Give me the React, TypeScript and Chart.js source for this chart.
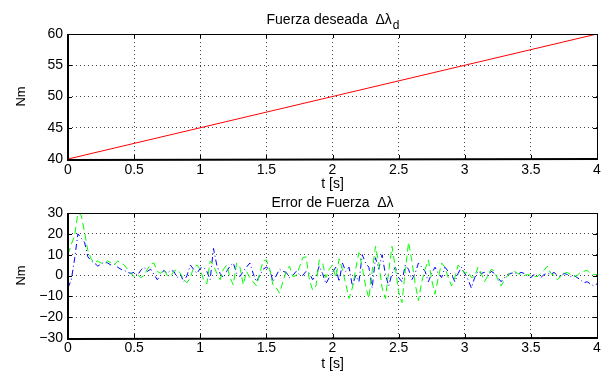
import React, { useEffect, useRef } from "react";
import { Chart, registerables } from "chart.js";

Chart.register(...registerables);

const FONT = '"Liberation Sans", Arial, Helvetica, sans-serif';

// ---- data ----
const forceTime = [0, 4];
const forceDesired = [40, 60];

const SAMPLE_STEP = 0.025; // s
const errorBlue = [
  -6, -2, 8, 20, 18, 16, 9, 7,
  6, 4.5, 5.5, 6.5, 6, 5, 5.5, 4,
  3, 2.5, 1.5, 1, 1.5, 0, 2.5, 4,
  2, 3, 0.5, -2, 0, 2.5, 1, 2.5,
  2, -1, 0.5, -3, 0, 5, 3, 1,
  3.5, 4, 2, -2, 13, 5, 1, -1,
  2, 4.5, 6, 1, -0.5, 2, 4, 6,
  1, -3, 0, 3, 4, 3, -3, 0,
  3, 2, 1.5, -1, 0, 2, 0.5, 0,
  2, 1, -2, 0, 4.5, 1, -4, -1,
  1.5, 4, -3, 6, 2, 4, -5, 0,
  -3, 10, 6, 4, -6, 8.5, 3, 10,
  0.5, -5, 1, 4, -1, -3, 5, 3,
  -2, 1, 6, 4, 2, -3, 1, 4,
  1, -1, 4, 2, 0.5, -3, 1, 4,
  1, -2, -6, -1, 2, 1, 1.5, 0,
  2, 1, -1, -3, -1, 0.5, 1, 1.5,
  0.5, 1.5, 1, -0.5, -1, 0.5, -0.5, -1,
  0.5, 1, 0.5, 1.5, 0, -0.5, 1, 0.5,
  -0.5, 0, -1, -2, -3.5, -3, -4, -5,
  -4,
];
const errorGreen = [
  10, 15, 19, 30, 29, 21, 12, 8,
  6, 7, 6, 5.5, 7, 6, 5, 7,
  6, 5, 3, 1, -0.5, 0.5, -1, 0,
  3, 5.5, 6, 2, 1, 3, 0, -0.5,
  2, 3, 1, -2, -3.5, -1, 4, 5,
  3, -2, -4, 7, 5, 1, -2, 3,
  5, -1, -4.5, 6, 4, -4.5, 2, -1,
  -3, -5, 1, 7, 7.5, 3, -4.5, -6,
  -8.5, -3, 2, 4.5, -0.5, 0, 4, 8.5,
  9, -2, -7, -5, 7.5, 6, -1, 3,
  5, -1, 8, 3, -4, -11, -6, 3,
  11, 4, -5, -11, 2, 14, 6, -6,
  -11, 2, 14, 4, -8, -13, 2, 16,
  7, -4, -12, -3, 3, 7.5, -2, -9,
  -1, 6, 4, -1, -5, -1, 5, 3,
  1, 2, -1, -0.5, 4, 1, -3, 0,
  3, 2, -2, -5, -2, 0, 1.5, 2,
  1, 0.5, 0, 0.5, 0, -0.5, -0.5, 1,
  2.5, 4.5, 1, 0, -2, -0.5, 1, 1.5,
  0.5, -0.5, 0, 1.5, 2, 2.5, 1, 0.5,
  0.5,
];

const xTickValues = [0, 0.5, 1, 1.5, 2, 2.5, 3, 3.5, 4];
const topYTickValues = [40, 45, 50, 55, 60];
const bottomYTickValues = [-30, -20, -10, 0, 10, 20, 30];

const topTitle = "Fuerza deseada  \u0394\u03bb";
const topTitleSub = "d";
const bottomTitle = "Error de Fuerza  \u0394\u03bb";
const xAxisTitle = "t [s]";
const yAxisTitle = "Nm";

const W = 610;
const H = 372;

type PanelSpec = {
  top: number;
  bottom: number;
  titleBaseline: number;
  xTitleBaseline: number;
  tickPad: number;
};

const fmt = (v: number) => String(v).replace("-", "\u2212");

function makePlugin(title: string, sub: string, spec: PanelSpec) {
  return {
    id: "matlabFrame",
    afterDraw(chart: any) {
      const ctx: CanvasRenderingContext2D = chart.ctx;
      const { left, right, top, bottom } = chart.chartArea;
      const xs = chart.scales.x;
      const ys = chart.scales.y;
      ctx.save();
      ctx.strokeStyle = "#000";
      ctx.lineWidth = 1;
      ctx.setLineDash([]);
      ctx.beginPath();
      xs.ticks.forEach((t: any) => {
        const px = Math.round(xs.getPixelForValue(t.value)) + 0.5;
        ctx.moveTo(px, bottom);
        ctx.lineTo(px, bottom - 4);
        ctx.moveTo(px, top);
        ctx.lineTo(px, top + 4);
      });
      ys.ticks.forEach((t: any) => {
        const py = Math.round(ys.getPixelForValue(t.value)) + 0.5;
        ctx.moveTo(left, py);
        ctx.lineTo(left + 4, py);
        ctx.moveTo(right, py);
        ctx.lineTo(right - 4, py);
      });
      ctx.stroke();
      // thin top/right
      ctx.beginPath();
      ctx.moveTo(left, Math.round(top) + 0.5);
      ctx.lineTo(right, Math.round(top) + 0.5);
      ctx.moveTo(Math.round(right) + 0.5, top);
      ctx.lineTo(Math.round(right) + 0.5, bottom);
      ctx.stroke();
      // thick left/bottom
      ctx.lineWidth = 2;
      ctx.beginPath();
      ctx.moveTo(Math.round(left), top);
      ctx.lineTo(Math.round(left), Math.round(bottom) + 1);
      ctx.lineTo(right + 1, Math.round(bottom));
      ctx.stroke();

      // titles
      ctx.fillStyle = "#000";
      const cx = (left + right) / 2;
      ctx.font = `14px ${FONT}`;
      const w1 = ctx.measureText(title).width;
      ctx.font = `12px ${FONT}`;
      const w2 = sub ? ctx.measureText(sub).width : 0;
      const x0 = cx - (w1 + w2) / 2;
      ctx.textAlign = "left";
      ctx.textBaseline = "alphabetic";
      ctx.font = `14px ${FONT}`;
      ctx.fillText(title, x0, spec.titleBaseline);
      if (sub) {
        ctx.font = `12px ${FONT}`;
        ctx.fillText(sub, x0 + w1 + 1, spec.titleBaseline + 5);
      }
      // x title
      ctx.font = `14px ${FONT}`;
      ctx.textAlign = "center";
      ctx.fillText(xAxisTitle, cx, spec.xTitleBaseline);
      // y title
      ctx.save();
      ctx.translate(25, (top + bottom) / 2);
      ctx.rotate(-Math.PI / 2);
      ctx.font = `13px ${FONT}`;
      ctx.textAlign = "center";
      ctx.textBaseline = "alphabetic";
      ctx.fillText(yAxisTitle, 0, 0);
      ctx.restore();
      ctx.restore();
    },
  };
}

function buildConfig(
  datasets: any[],
  yMin: number,
  yMax: number,
  yTicks: number[],
  title: string,
  sub: string,
  spec: PanelSpec
): any {
  const gridCommon = {
    color: "rgba(0,0,0,0.75)",
    lineWidth: 1,
    drawTicks: false,
  };
  return {
    type: "line",
    data: { datasets },
    options: {
      animation: false,
      responsive: false,
      maintainAspectRatio: false,
      events: [],
      layout: {
        padding: { left: 0, right: 13, top: spec.top, bottom: H - spec.bottom - 30 },
      },
      plugins: {
        legend: { display: false },
        title: { display: false },
        tooltip: { enabled: false },
      },
      elements: { point: { radius: 0 }, line: { tension: 0 } },
      scales: {
        x: {
          type: "linear",
          min: 0,
          max: 4,
          afterBuildTicks: (s: any) => {
            s.ticks = xTickValues.map((v) => ({ value: v }));
          },
          afterFit: (s: any) => {
            s.height = 30;
            s.paddingLeft = 0;
            s.paddingRight = 0;
          },
          grid: gridCommon,
          border: { display: false, dash: [1, 3] },
          ticks: {
            color: "#000",
            font: { family: FONT, size: 14 },
            padding: spec.tickPad,
            maxRotation: 0,
            autoSkip: false,
            callback: (v: any) => fmt(Number(v)),
          },
        },
        y: {
          type: "linear",
          min: yMin,
          max: yMax,
          afterBuildTicks: (s: any) => {
            s.ticks = yTicks.map((v) => ({ value: v }));
          },
          afterFit: (s: any) => {
            s.width = 68;
            s.paddingTop = 0;
            s.paddingBottom = 0;
          },
          grid: gridCommon,
          border: { display: false, dash: [1, 3] },
          ticks: {
            color: "#000",
            font: { family: FONT, size: 14 },
            padding: 5,
            autoSkip: false,
            callback: (v: any) => fmt(Number(v)),
          },
        },
      },
    },
    plugins: [makePlugin(title, sub, spec)],
  };
}

export default function App() {
  const topRef = useRef<HTMLCanvasElement | null>(null);
  const botRef = useRef<HTMLCanvasElement | null>(null);

  useEffect(() => {
    const topData = forceTime.map((t, i) => ({ x: t, y: forceDesired[i] }));
    const blueData = errorBlue.map((y, i) => ({ x: i * SAMPLE_STEP, y }));
    const greenData = errorGreen.map((y, i) => ({ x: i * SAMPLE_STEP, y }));

    const topChart = new Chart(
      topRef.current as HTMLCanvasElement,
      buildConfig(
        [
          {
            data: topData,
            borderColor: "#ff0000",
            borderWidth: 1,
            pointRadius: 0,
          },
        ],
        40,
        60,
        topYTickValues,
        topTitle,
        topTitleSub,
        { top: 34, bottom: 159, titleBaseline: 24, xTitleBaseline: 188, tickPad: 3 }
      )
    );
    const botChart = new Chart(
      botRef.current as HTMLCanvasElement,
      buildConfig(
        [
          {
            data: greenData,
            borderColor: "#00ff00",
            borderWidth: 1,
            borderDash: [7, 4],
            pointRadius: 0,
          },
          {
            data: blueData,
            borderColor: "#0000ff",
            borderWidth: 1,
            borderDash: [6, 3, 1, 3],
            pointRadius: 0,
          },
        ],
        -30,
        30,
        bottomYTickValues,
        bottomTitle,
        "",
        { top: 213, bottom: 338, titleBaseline: 207, xTitleBaseline: 368, tickPad: 2 }
      )
    );
    return () => {
      topChart.destroy();
      botChart.destroy();
    };
  }, []);

  return (
    <div
      style={{
        position: "fixed",
        left: 0,
        top: 0,
        width: W,
        height: H,
        background: "#fff",
        overflow: "hidden",
      }}
    >
      <canvas
        ref={topRef}
        width={W}
        height={H}
        style={{ position: "absolute", left: 0, top: 0, width: W, height: H }}
      />
      <canvas
        ref={botRef}
        width={W}
        height={H}
        style={{ position: "absolute", left: 0, top: 0, width: W, height: H }}
      />
    </div>
  );
}
